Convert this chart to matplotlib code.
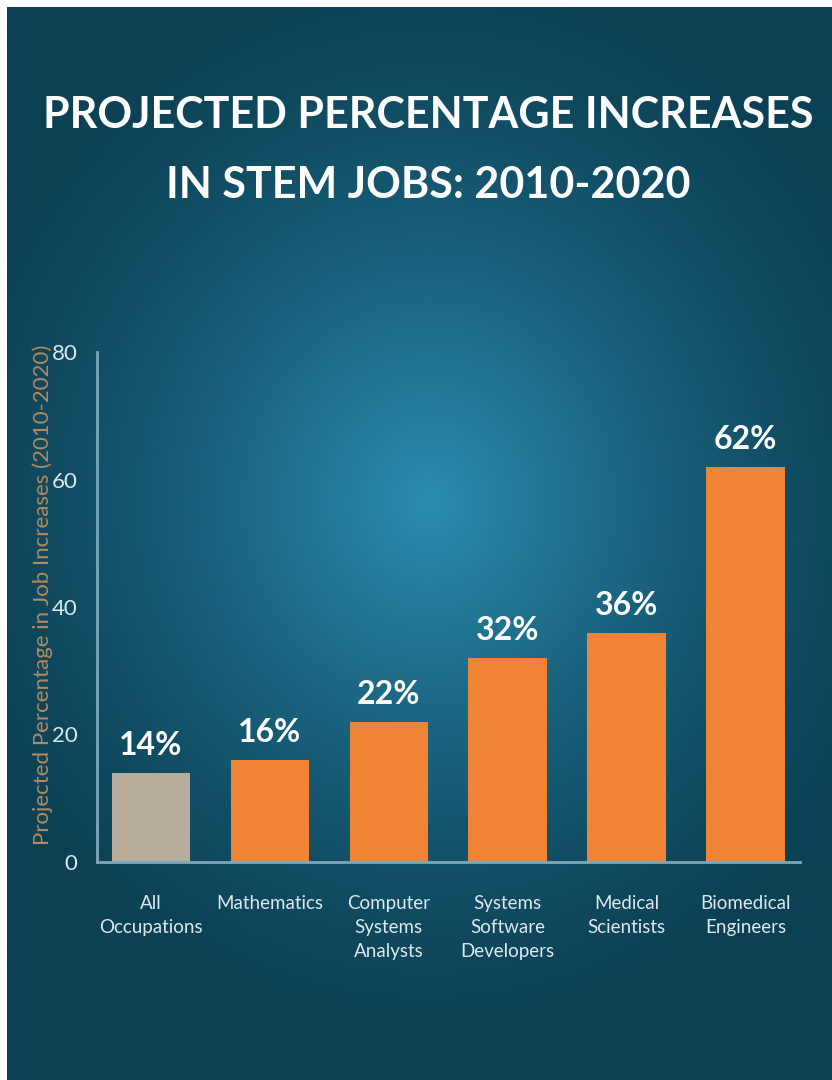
import numpy as np
import matplotlib.pyplot as plt

categories = ["All\nOccupations", "Mathematics", "Computer\nSystems\nAnalysts",
              "Systems\nSoftware\nDevelopers", "Medical\nScientists", "Biomedical\nEngineers"]
values = [14, 16, 22, 32, 36, 62]
bar_labels = ["14%", "16%", "22%", "32%", "36%", "62%"]
yticks = [0, 20, 40, 60, 80]
title_lines = ["PROJECTED PERCENTAGE INCREASES", "IN STEM JOBS: 2010-2020"]

W, H = 832, 1080
fig = plt.figure(figsize=(W / 100, H / 100), dpi=100, facecolor="white")

# background panel with a radial glow
bg = fig.add_axes([7 / W, 0, (W - 7) / W, (H - 7) / H])
bg.set_axis_off()
ny, nx = 540, 412
yy, xx = np.mgrid[0:ny, 0:nx]
cx, cy = 0.51 * nx, 0.46 * ny
r = np.sqrt(((xx - cx) / (0.60 * nx)) ** 2 + ((yy - cy) / (0.50 * ny)) ** 2)
t = np.clip(1 - r, 0, 1) ** 1.4
dark = np.array([12, 65, 85]) / 255
light = np.array([44, 142, 178]) / 255
img = dark[None, None, :] + (light - dark)[None, None, :] * t[:, :, None]
bg.imshow(img, aspect="auto", extent=[0, 1, 0, 1], origin="upper")
bg.set_xlim(0, 1)
bg.set_ylim(0, 1)

# title, two lines placed separately
for line, ypix in zip(title_lines, [115, 185]):
    fig.text(0.5 + 12 / W, 1 - ypix / H, line, ha="center", va="center",
             color="white", fontsize=31, fontweight="bold", family="Lato")

ax = fig.add_axes([97 / W, 1 - 862 / H, (800 - 97) / W, (862 - 352) / H])
ax.set_facecolor("none")
x = np.arange(len(values))
colors = ["#b6ac99"] + ["#ee8434"] * (len(values) - 1)
bars = ax.bar(x, values, width=0.66, color=colors)
for b, lab in zip(bars, bar_labels):
    ax.text(b.get_x() + b.get_width() / 2, b.get_height() + 2.0, lab,
            ha="center", va="bottom", color="white", fontsize=23,
            fontweight="bold", family="Lato")

ax.set_xlim(-0.455, 5.46)
ax.set_ylim(0, 80)
ax.set_yticks(yticks)
ax.set_xticks(x)
ax.set_xticklabels(categories, family="Lato", fontsize=13.5,
                   color="#dce8ee", linespacing=1.5, va="top")
ax.tick_params(axis="both", length=0, colors="#dce8ee")
ax.tick_params(axis="x", pad=24)
ax.tick_params(axis="y", pad=14)
for lab in ax.get_yticklabels():
    lab.set_family("Lato")
    lab.set_fontsize(16)
for s in ["top", "right"]:
    ax.spines[s].set_visible(False)
for s in ["left", "bottom"]:
    ax.spines[s].set_color("#7ea6ba")
    ax.spines[s].set_linewidth(2)

fig.text(43 / W, 1 - 595 / H, "Projected Percentage in Job Increases (2010-2020)",
         rotation=90, ha="center", va="center", color="#b58a5c", fontsize=16,
         family="Lato")

fig.savefig("out.png", dpi=100, facecolor="white")
